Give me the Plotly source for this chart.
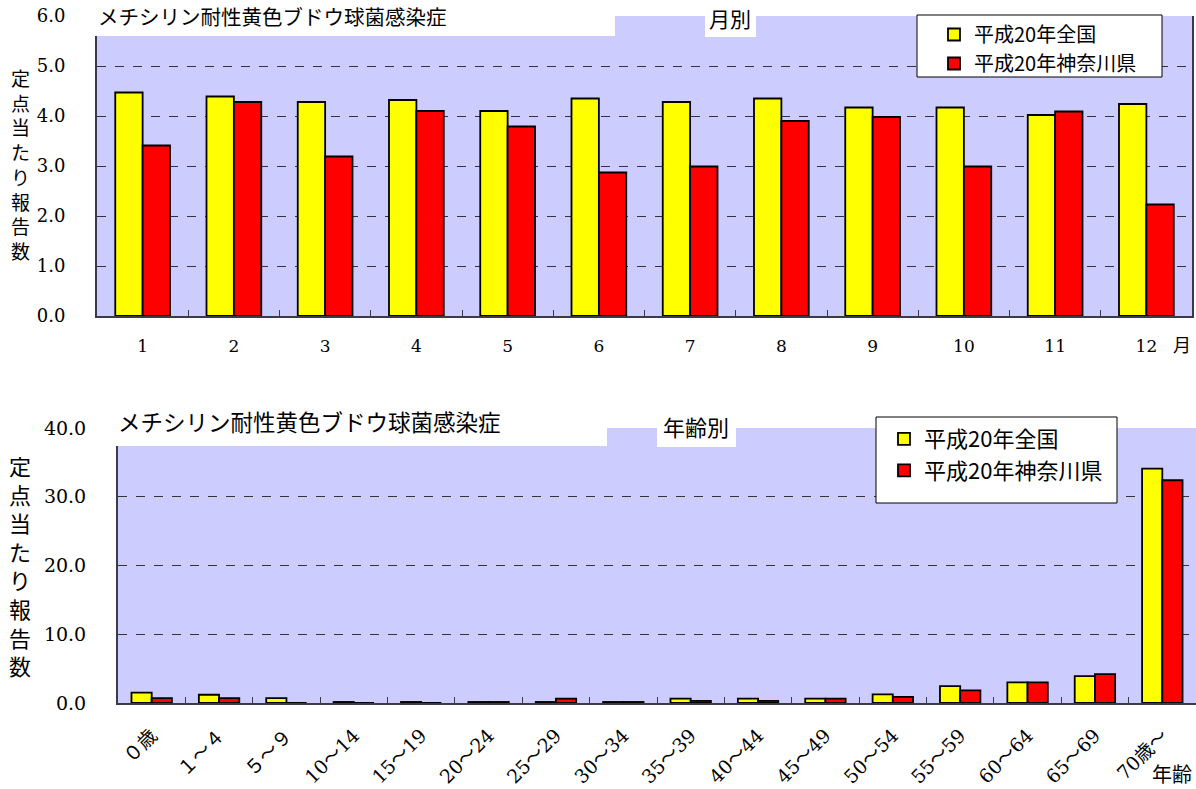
import plotly.graph_objects as go

W, H = 1196, 789

# ---------------- data ----------------
months = ["1", "2", "3", "4", "5", "6", "7", "8", "9", "10", "11", "12"]
nat_month = [4.47, 4.39, 4.28, 4.32, 4.10, 4.35, 4.28, 4.35, 4.17, 4.17, 4.02, 4.24]
kan_month = [3.41, 4.28, 3.19, 4.10, 3.79, 2.87, 2.99, 3.90, 3.98, 2.99, 4.09, 2.23]

ages = ["０歳", "１～４", "５～９", "10～14", "15～19", "20～24", "25～29", "30～34",
        "35～39", "40～44", "45～49", "50～54", "55～59", "60～64", "65～69", "70歳～"]
nat_age = [1.5, 1.2, 0.7, 0.15, 0.15, 0.15, 0.15, 0.15, 0.65, 0.65, 0.65, 1.25, 2.45, 3.0, 3.9, 34.1]
kan_age = [0.7, 0.7, 0.0, 0.0, 0.0, 0.15, 0.65, 0.15, 0.3, 0.3, 0.65, 0.9, 1.85, 3.0, 4.2, 32.4]

name_nat = "平成20年全国"
name_kan = "平成20年神奈川県"
title_txt = "メチシリン耐性黄色ブドウ球菌感染症"
ytitle_chars = list("定点当たり報告数")
top_ticks = [0, 1, 2, 3, 4, 5, 6]
bot_ticks = [0, 10, 20, 30, 40]

# ---------------- helpers ----------------
def px(x):
    return x / W

def py(y):
    return 1 - y / H

YELLOW = "#FFFF00"
RED = "#FF0000"
BG = "#CCCCFF"
AX = "#3a3a4a"
SERIF = "DejaVu Serif, Noto Sans CJK JP"
SANS = "Noto Sans CJK JP"

fig = go.Figure()

bar_line = dict(color="#000000", width=1.8)
fig.add_trace(go.Bar(x=months, y=nat_month, name=name_nat, xaxis="x", yaxis="y",
                     marker=dict(color=YELLOW, line=bar_line), legend="legend", legendgroup="a"))
fig.add_trace(go.Bar(x=months, y=kan_month, name=name_kan, xaxis="x", yaxis="y",
                     marker=dict(color=RED, line=bar_line), legend="legend", legendgroup="b"))
fig.add_trace(go.Bar(x=ages, y=nat_age, name=name_nat, xaxis="x2", yaxis="y2",
                     marker=dict(color=YELLOW, line=bar_line), legend="legend2", legendgroup="c"))
fig.add_trace(go.Bar(x=ages, y=kan_age, name=name_kan, xaxis="x2", yaxis="y2",
                     marker=dict(color=RED, line=bar_line), legend="legend2", legendgroup="d"))

common_y = dict(showgrid=True, gridcolor="#333333", griddash="dash", gridwidth=1,
                zeroline=False, showline=True, linecolor=AX, linewidth=2, ticks="",
                fixedrange=True, automargin=False)
common_x = dict(showline=True, linecolor=AX, linewidth=2, ticks="inside", ticklen=6,
                tickcolor=AX, tickwidth=1, tickson="boundaries", showgrid=False,
                fixedrange=True, automargin=False)

fig.update_layout(
    width=W, height=H,
    margin=dict(l=0, r=0, t=0, b=0, autoexpand=False),
    paper_bgcolor="white",
    plot_bgcolor=BG,
    barmode="group", bargap=0.4, bargroupgap=0.0,
    xaxis=dict(domain=[px(97), px(1192)], anchor="y", ticklabelstandoff=14,
               tickfont=dict(family=SERIF, size=17, color="#000"), **common_x),
    yaxis=dict(domain=[py(316), py(16)], anchor="x", range=[0, 6], tickvals=top_ticks,
               ticktext=[f"{v:.1f}" for v in top_ticks], ticklabelstandoff=26,
               tickfont=dict(family=SERIF, size=18, color="#000"),
               mirror=True, **common_y),
    xaxis2=dict(domain=[px(118), 1.0], anchor="y2", tickangle=-45, ticklabelstandoff=12,
                tickfont=dict(family=SERIF, size=19, color="#000"), **common_x),
    yaxis2=dict(domain=[py(703), py(428)], anchor="x2", range=[0, 40], tickvals=bot_ticks,
                ticktext=[f"{v:.1f}" for v in bot_ticks], ticklabelstandoff=26,
                tickfont=dict(family=SERIF, size=19, color="#000"), **common_y),
    legend=dict(x=px(934), y=py(15), xanchor="left", yanchor="top",
                bgcolor="rgba(0,0,0,0)", borderwidth=0, tracegroupgap=9,
                font=dict(family=SANS, size=20, color="#000"), traceorder="normal"),
    legend2=dict(x=px(884), y=py(418), xanchor="left", yanchor="top",
                 bgcolor="rgba(0,0,0,0)", borderwidth=0, tracegroupgap=23,
                 font=dict(family=SANS, size=22, color="#000"), traceorder="normal"),
    showlegend=True,
)

shapes = [
    # top title box and sub-title box
    dict(type="rect", xref="paper", yref="paper", x0=px(90), x1=px(615), y0=py(36), y1=1.0,
         fillcolor="white", line=dict(width=0), layer="above"),
    dict(type="rect", xref="paper", yref="paper", x0=px(705), x1=px(756), y0=py(37), y1=py(8),
         fillcolor="white", line=dict(width=0), layer="above"),
    # top legend box
    dict(type="rect", xref="paper", yref="paper", x0=px(917), x1=px(1162), y0=py(77), y1=py(15),
         fillcolor="white", line=dict(color="#000", width=1), layer="above"),
    # bottom title box and sub-title box
    dict(type="rect", xref="paper", yref="paper", x0=px(100), x1=px(607), y0=py(446), y1=py(405),
         fillcolor="white", line=dict(width=0), layer="above"),
    dict(type="rect", xref="paper", yref="paper", x0=px(657), x1=px(736), y0=py(447), y1=py(413),
         fillcolor="white", line=dict(width=0), layer="above"),
    # bottom legend box
    dict(type="rect", xref="paper", yref="paper", x0=px(876), x1=px(1117), y0=py(503), y1=py(417),
         fillcolor="white", line=dict(color="#000", width=1), layer="above"),
]
fig.update_layout(shapes=shapes)

ann = [
    dict(text=title_txt, x=px(96), y=py(18), xanchor="left", yanchor="middle",
         font=dict(family=SERIF, size=20.5, color="#000")),
    dict(text="月別", x=px(730), y=py(20), xanchor="center", yanchor="middle",
         font=dict(family=SERIF, size=21, color="#000")),
    dict(text="<br>".join(ytitle_chars), x=px(20), y=py(166), xanchor="center", yanchor="middle",
         font=dict(family=SERIF, size=19, color="#000")),
    dict(text="月", x=px(1182), y=py(345), xanchor="center", yanchor="middle",
         font=dict(family=SERIF, size=18, color="#000")),
    dict(text=title_txt, x=px(116), y=py(423), xanchor="left", yanchor="middle",
         font=dict(family=SERIF, size=22.5, color="#000")),
    dict(text="年齢別", x=px(696), y=py(428), xanchor="center", yanchor="middle",
         font=dict(family=SERIF, size=22, color="#000")),
    dict(text="<br>".join(ytitle_chars), x=px(20), y=py(567), xanchor="center", yanchor="middle",
         font=dict(family=SERIF, size=22, color="#000")),
    dict(text="年齢", x=px(1172), y=py(775), xanchor="center", yanchor="middle",
         font=dict(family=SERIF, size=20, color="#000")),
]
for a in ann:
    a.update(xref="paper", yref="paper", showarrow=False)
fig.update_layout(annotations=ann)

fig.write_html("out.html", config={"displayModeBar": False},
               post_script="document.body.style.margin='0';document.body.style.overflow='hidden';")
